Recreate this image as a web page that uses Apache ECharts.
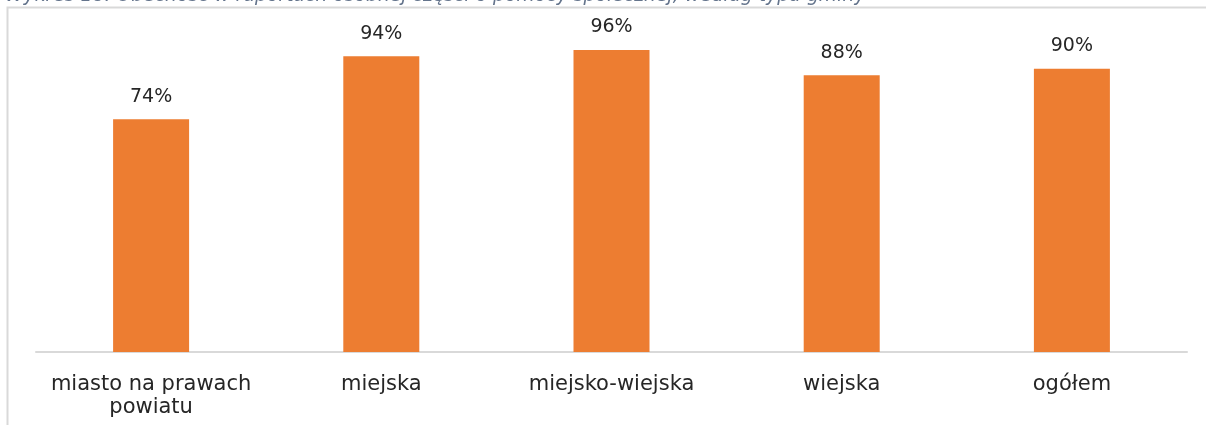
<!DOCTYPE html>
<html><head><meta charset="utf-8">
<script src="https://cdn.jsdelivr.net/npm/echarts@6/dist/echarts.min.js"></script>
<style>html,body{margin:0;padding:0;background:#fff;}#c{width:1206px;height:425px;}</style>
</head><body><div id="c"></div>
<script>
const titleText = 'Wykres 18. Obecność w raportach osobnej części o pomocy społecznej, według typu gminy';
const categories = ['miasto na prawach\npowiatu', 'miejska', 'miejsko-wiejska', 'wiejska', 'ogółem'];
const values = [74, 94, 96, 88, 90];

const chart = echarts.init(document.getElementById('c'));
chart.setOption({
  animation: false,
  backgroundColor: '#fff',
  title: {
    text: titleText, left: 0, top: -18,
    textStyle: { fontFamily: 'DejaVu Sans', fontStyle: 'italic', fontWeight: 'normal', fontSize: 18.8, color: '#64748c' }
  },
  graphic: [{
    type: 'polyline', silent: true, z: -1,
    shape: { points: [[7.5, 440], [7.5, 7.5], [1220, 7.5]] },
    style: { stroke: '#d9d9d9', lineWidth: 2, fill: null }
  }],
  grid: { left: 36, right: 19, top: 37.4, bottom: 73 },
  xAxis: {
    type: 'category', data: categories,
    axisLine: { lineStyle: { color: '#d9d9d9', width: 2 } },
    axisTick: { show: false },
    axisLabel: { interval: 0, color: '#262626', fontFamily: 'DejaVu Sans', fontSize: 21, lineHeight: 23, margin: 21 }
  },
  yAxis: { type: 'value', min: 0, max: 100, show: false, splitLine: { show: false } },
  series: [{
    type: 'bar', data: values, barWidth: 76,
    itemStyle: { color: '#ed7d31' },
    label: { show: true, position: 'top', distance: 13, formatter: '{c}%', color: '#262626', fontFamily: 'DejaVu Sans', fontSize: 19 }
  }]
});
</script></body></html>
